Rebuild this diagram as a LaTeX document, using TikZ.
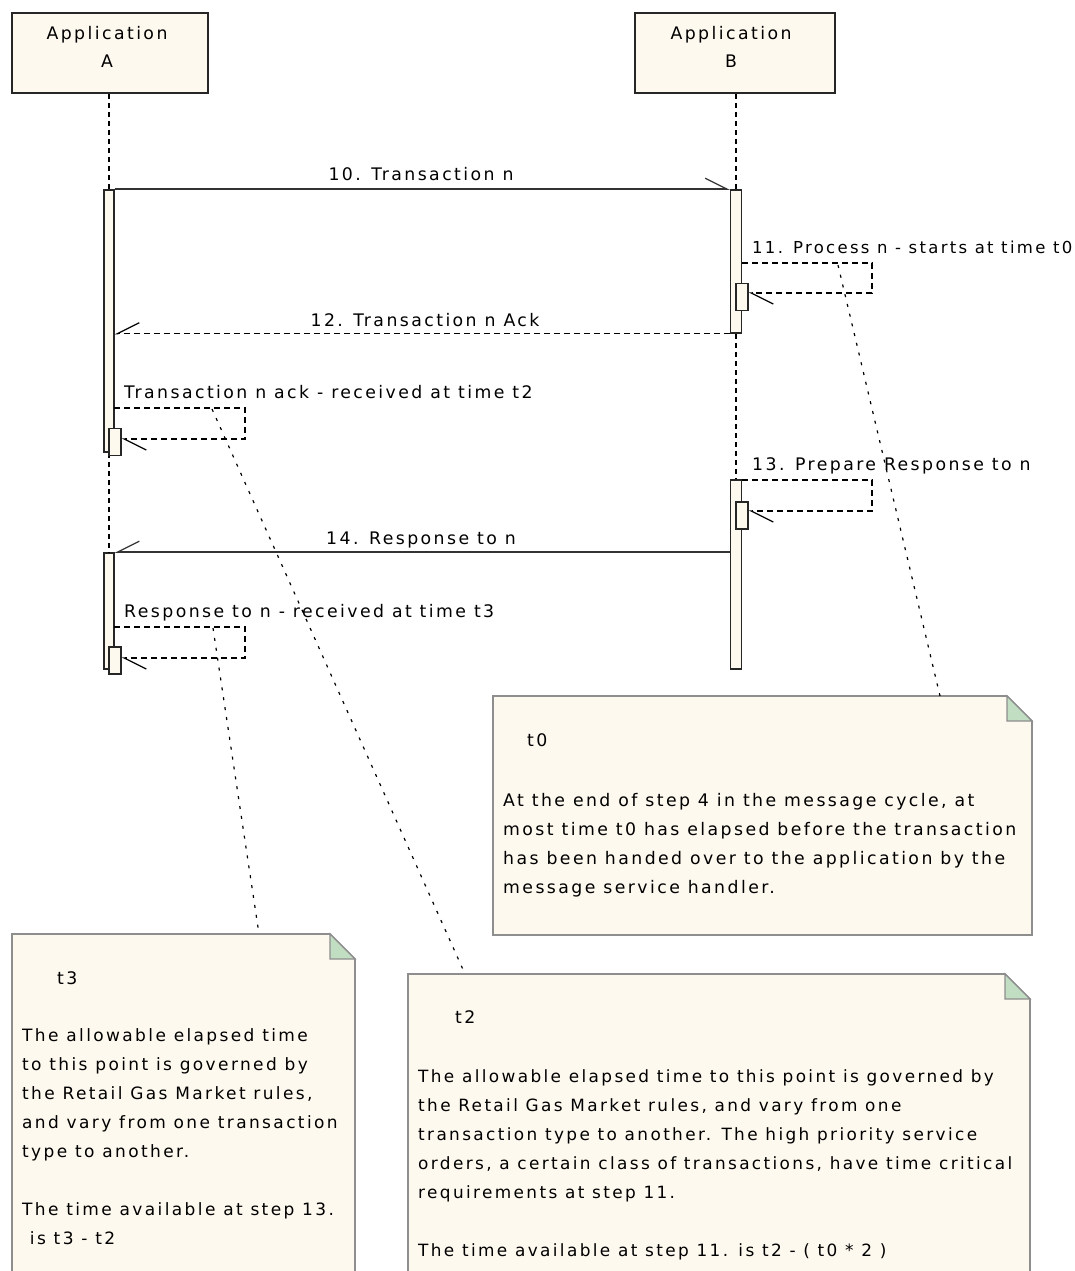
\documentclass[tikz,border=0pt]{standalone}
\usepackage{fontspec}
\setmainfont{DejaVu Sans}[LetterSpace=14]
\usetikzlibrary{arrows.meta}
\definecolor{cream}{HTML}{FEF9EE}
\definecolor{notegreen}{HTML}{C2DEC2}
\definecolor{notegray}{HTML}{8E8E8E}
\begin{document}
\begin{tikzpicture}[x=1pt,y=-1pt,
  txt/.style={font=\fontsize{17.3}{29}\selectfont, inner sep=0pt, text=black, align=left},
  lifebox/.style={draw=black!85, line width=1.6pt, fill=cream, minimum width=196pt, minimum height=80pt, inner sep=0pt},
  act/.style={draw=black!85, line width=1.5pt, fill=cream, inner sep=0pt, minimum width=10pt},
  sact/.style={act, minimum width=12pt, minimum height=27pt},
  lifeline/.style={black, line width=1.4pt, dash pattern=on 5pt off 4pt},
  msg/.style={black!80, line width=2pt},
  rmsg/.style={black, line width=1.4pt, dash pattern=on 6pt off 4pt},
  barbl/.style={-{Straight Barb[harpoon, length=22pt, width=22pt, line width=1.2pt]}},
  barbr/.style={-{Straight Barb[harpoon, swap, length=22pt, width=22pt, line width=1.2pt]}},
  notelink/.style={black, line width=1.2pt, dash pattern=on 3pt off 7pt},
  notebody/.style={fill=cream, draw=notegray, line width=1.6pt},
  notefold/.style={fill=notegreen, draw=notegray, line width=1.2pt}
]
\clip (0,0) rectangle (1075,1271);
\fill[white] (0,0) rectangle (1075,1271);

% lifeline heads
\node[lifebox] (boxA) at (110,53) {};
\node[txt, anchor=base] (boxAt) at (107,40) {Application};
\node[txt, anchor=base] (boxAt2) at (107,68) {A};
\node[lifebox, minimum width=200pt] (boxB) at (735,53) {};
\node[txt, anchor=base] (boxBt) at (731,40) {Application};
\node[txt, anchor=base] (boxBt2) at (731,68) {B};

% activations
\node[act, minimum height=262pt] (actA1) at (109,321) {};
\node[act, minimum height=116pt] (actA2) at (109,611) {};
\node[act, minimum width=11pt, minimum height=143pt] (actB1) at (736,261.5) {};
\node[act, minimum width=11pt, minimum height=189pt] (actB2) at (736,574.5) {};

% lifelines
\draw[lifeline] (boxA.south -| actA1.north) -- (actA1.north);
\draw[lifeline] (actA1.south) -- (actA2.north);
\draw[lifeline] (boxB.south -| actB1.north) -- (actB1.north);
\draw[lifeline] (actB1.south) -- (actB2.north);

% self-activation boxes
\node[sact] (sA1) at (115,442) {};
\node[sact] (sA2) at (115,660.5) {};
\node[sact] (sB1) at (742,297) {};
\node[sact] (sB2) at (742,515.5) {};

% 10
\draw[msg, barbl] (actA1.north east) -- (actB1.north west);
\node[txt, anchor=base] (m10) at (421,180) {10. Transaction n};
% 11
\coordinate (c11a) at (742,263);
\coordinate (c11b) at (872,263);
\coordinate (c11c) at (872,293);
\draw[rmsg, barbl] (c11a) -- (c11b) -- (c11c) -- (sB1.east |- c11c);
\node[txt, font=\fontsize{16.5}{29}\selectfont, anchor=base west] (m11) at (752,253) {11. Process n - starts at time t0};
% 12
\draw[rmsg, barbr] (actB1.south west) -- (actA1.east |- actB1.south west);
\node[txt, anchor=base] (m12) at (425,326) {12. Transaction n Ack};
% ack received
\coordinate (cA1a) at (114,408);
\coordinate (cA1b) at (245,408);
\coordinate (cA1c) at (245,439);
\draw[rmsg, barbl] (cA1a) -- (cA1b) -- (cA1c) -- (sA1.east |- cA1c);
\node[txt, anchor=base west] (mA1) at (124,398) {Transaction n ack - received at time t2};
% 13
\coordinate (c13a) at (742,480);
\coordinate (c13b) at (872,480);
\coordinate (c13c) at (872,511);
\draw[rmsg, barbl] (c13a) -- (c13b) -- (c13c) -- (sB2.east |- c13c);
\node[txt, anchor=base west] (m13) at (752,470) {13. Prepare Response to n};
% 14
\draw[msg, barbr] (actB2.west |- actA2.north) -- (actA2.north east);
\node[txt, anchor=base] (m14) at (421,544) {14. Response to n};
% response received
\coordinate (cA2a) at (114,627);
\coordinate (cA2b) at (245,627);
\coordinate (cA2c) at (245,658);
\draw[rmsg, barbl] (cA2a) -- (cA2b) -- (cA2c) -- (sA2.east |- cA2c);
\node[txt, anchor=base west] (mA2) at (124,617) {Response to n - received at time t3};

% notes
% t0
\draw[notebody] (493,696) -- (1007,696) -- (1032,721) -- (1032,935) -- (493,935) -- cycle;
\draw[notefold] (1007,696) -- (1007,721) -- (1032,721) -- cycle;
\node[txt, anchor=base west] (n0t) at (527,746) {t0};
\node[txt, anchor=base west] (n0b) at (503,893) {At the end of step 4 in the message cycle, at\\most time t0 has elapsed before the transaction\\has been handed over to the application by the\\message service handler.};
% t3
\draw[notebody] (12,934) -- (330,934) -- (355,959) -- (355,1290) -- (12,1290) -- cycle;
\draw[notefold] (330,934) -- (330,959) -- (355,959) -- cycle;
\node[txt, anchor=base west] (n3t) at (57,984) {t3};
\node[txt, font=\fontsize{17}{29}\selectfont, anchor=base west] (n3b) at (22,1244) {The allowable elapsed time\\to this point is governed by\\the Retail Gas Market rules,\\and vary from one transaction\\type to another.\\[29pt]The time available at step 13.\\\ is t3 - t2};
% t2
\draw[notebody] (408,974) -- (1005,974) -- (1030,999) -- (1030,1290) -- (408,1290) -- cycle;
\draw[notefold] (1005,974) -- (1005,999) -- (1030,999) -- cycle;
\node[txt, anchor=base west] (n2t) at (455,1023) {t2};
\node[txt, font=\fontsize{16.9}{29}\selectfont, anchor=base west] (n2b) at (418,1256) {The allowable elapsed time to this point is governed by\\the Retail Gas Market rules, and vary from one\\transaction type to another. The high priority service\\orders, a certain class of transactions, have time critical\\requirements at step 11.\\[29pt]The time available at step 11. is t2 - ( t0 * 2 )};

% note links
\coordinate (l0a) at (838,265);
\coordinate (l0b) at (940,696);
\draw[notelink] (l0a) -- (l0b);
\coordinate (l2a) at (212,409);
\coordinate (l2b) at (465,974);
\draw[notelink] (l2a) -- (l2b);
\coordinate (l3a) at (213,628);
\coordinate (l3b) at (259,934);
\draw[notelink] (l3a) -- (l3b);
\end{tikzpicture}
\end{document}
